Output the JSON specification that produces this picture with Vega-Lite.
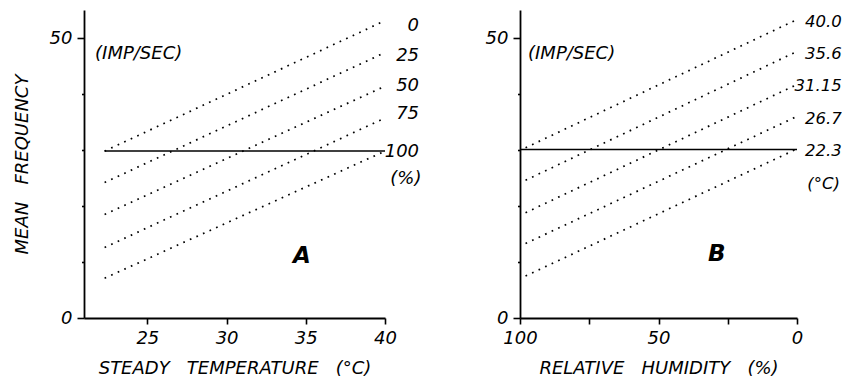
{
  "$schema": "https://vega.github.io/schema/vega-lite/v6.json",
  "background": "white",
  "padding": {"left": 13, "top": 10, "right": 0, "bottom": 0},
  "bounds": "flush",
  "spacing": 135,
  "config": {
    "view": {"stroke": null},
    "font": "DejaVu Sans",
    "axis": {
      "domainColor": "black", "domainWidth": 1.8,
      "tickColor": "black", "tickWidth": 1.6,
      "labelFont": "DejaVu Sans", "labelFontStyle": "italic", "labelFontSize": 18, "labelColor": "black",
      "titleFont": "DejaVu Sans", "titleFontStyle": "italic", "titleFontWeight": "normal", "titleFontSize": 18, "titleColor": "black",
      "grid": false, "labelOverlap": false, "labelFlush": false
    },
    "text": {"font": "DejaVu Sans", "fontStyle": "italic", "color": "black"}
  },
  "datasets": {
    "tempDotted": [
      {"rh": "0", "temp": 22.3, "freq": 29.8}, {"rh": "0", "temp": 40, "freq": 53.1},
      {"rh": "25", "temp": 22.3, "freq": 24.2}, {"rh": "25", "temp": 40, "freq": 47.4},
      {"rh": "50", "temp": 22.3, "freq": 18.5}, {"rh": "50", "temp": 40, "freq": 41.4},
      {"rh": "75", "temp": 22.3, "freq": 12.6}, {"rh": "75", "temp": 40, "freq": 35.7},
      {"rh": "100", "temp": 22.3, "freq": 7.1}, {"rh": "100", "temp": 40, "freq": 29.8}
    ],
    "tempSolid": [{"temp": 22.3, "freq": 29.8}, {"temp": 40, "freq": 29.8}],
    "tempLabels": [
      {"temp": 42.15, "freq": 52.1, "label": "0"},
      {"temp": 42.15, "freq": 46.8, "label": "25"},
      {"temp": 42.15, "freq": 41.4, "label": "50"},
      {"temp": 42.15, "freq": 36.4, "label": "75"},
      {"temp": 42.15, "freq": 29.6, "label": "100"},
      {"temp": 42.3, "freq": 24.9, "label": "(%)"}
    ],
    "tempNotes": [{"temp": 21.7, "freq": 47.1, "label": "(IMP/SEC)"}],
    "tempPanel": [{"temp": 34.76, "freq": 11.1, "label": "A"}],
    "rhDotted": [
      {"temp": "40.0", "rh": 98, "freq": 30.4}, {"temp": "40.0", "rh": 0, "freq": 53.3},
      {"temp": "35.6", "rh": 98, "freq": 24.6}, {"temp": "35.6", "rh": 0, "freq": 47.6},
      {"temp": "31.15", "rh": 98, "freq": 18.8}, {"temp": "31.15", "rh": 0, "freq": 41.7},
      {"temp": "26.7", "rh": 98, "freq": 13.3}, {"temp": "26.7", "rh": 0, "freq": 36.0},
      {"temp": "22.3", "rh": 98, "freq": 7.5}, {"temp": "22.3", "rh": 0, "freq": 30.2}
    ],
    "rhSolid": [{"rh": 100, "freq": 30.1}, {"rh": 0, "freq": 30.1}],
    "rhLabels": [
      {"rh": -16.2, "freq": 52.8, "label": "40.0"},
      {"rh": -16.2, "freq": 47.2, "label": "35.6"},
      {"rh": -16.2, "freq": 41.5, "label": "31.15"},
      {"rh": -16.2, "freq": 35.6, "label": "26.7"},
      {"rh": -16.2, "freq": 29.9, "label": "22.3"},
      {"rh": -15.5, "freq": 24.0, "label": "(°C)"}
    ],
    "rhNotes": [{"rh": 97.1, "freq": 47.1, "label": "(IMP/SEC)"}],
    "rhPanel": [{"rh": 29.0, "freq": 11.4, "label": "B"}]
  },
  "hconcat": [
    {
      "width": 301,
      "height": 308,
      "layer": [
        {
          "data": {"name": "tempDotted"},
          "mark": {"type": "line", "color": "black", "strokeWidth": 1.7, "strokeDash": [1.7, 5.5]},
          "encoding": {
            "x": {"field": "temp", "type": "quantitative", "scale": {"domain": [21, 40], "nice": false, "zero": false},
                  "axis": {"values": [25, 30, 35, 40], "tickSize": 6, "labelPadding": 5,
                           "labelFontStyle": "italic", "labelFontSize": 18, "titleFontStyle": "italic", "titleFontSize": 18,
                           "title": "STEADY\u00a0\u00a0\u00a0TEMPERATURE\u00a0\u00a0\u00a0(°C)", "titlePadding": 12}},
            "y": {"field": "freq", "type": "quantitative", "scale": {"domain": [0, 55], "nice": false},
                  "axis": {"values": [0, 5, 10, 15, 20, 25, 30, 35, 40, 45, 50],
                           "labelExpr": "datum.value % 25 === 0 ? datum.label : ''",
                           "tickSize": {"condition": {"test": "datum.value % 25 === 0", "value": 7}, "value": 2.5},
                           "labelFontStyle": "italic", "labelFontSize": 18, "titleFontStyle": "italic", "titleFontSize": 18,
                           "labelPadding": 5, "title": "MEAN\u00a0\u00a0\u00a0FREQUENCY", "titlePadding": 18}},
            "detail": {"field": "rh", "type": "nominal"}
          }
        },
        {
          "data": {"name": "tempSolid"},
          "mark": {"type": "line", "color": "black", "strokeWidth": 1.5},
          "encoding": {
            "x": {"field": "temp", "type": "quantitative", "scale": {"domain": [21, 40], "nice": false, "zero": false}},
            "y": {"field": "freq", "type": "quantitative", "scale": {"domain": [0, 55], "nice": false}}
          }
        },
        {
          "data": {"name": "tempLabels"},
          "mark": {"type": "text", "align": "right", "baseline": "middle", "fontSize": 18},
          "encoding": {
            "x": {"field": "temp", "type": "quantitative", "scale": {"domain": [21, 40], "nice": false, "zero": false}},
            "y": {"field": "freq", "type": "quantitative", "scale": {"domain": [0, 55], "nice": false}},
            "text": {"field": "label"}
          }
        },
        {
          "data": {"name": "tempNotes"},
          "mark": {"type": "text", "align": "left", "baseline": "middle", "fontSize": 18},
          "encoding": {
            "x": {"field": "temp", "type": "quantitative", "scale": {"domain": [21, 40], "nice": false, "zero": false}},
            "y": {"field": "freq", "type": "quantitative", "scale": {"domain": [0, 55], "nice": false}},
            "text": {"field": "label"}
          }
        },
        {
          "data": {"name": "tempPanel"},
          "mark": {"type": "text", "align": "center", "baseline": "middle", "fontSize": 23, "fontWeight": "bold"},
          "encoding": {
            "x": {"field": "temp", "type": "quantitative", "scale": {"domain": [21, 40], "nice": false, "zero": false}},
            "y": {"field": "freq", "type": "quantitative", "scale": {"domain": [0, 55], "nice": false}},
            "text": {"field": "label"}
          }
        }
      ]
    },
    {
      "width": 277,
      "height": 308,
      "layer": [
        {
          "data": {"name": "rhDotted"},
          "mark": {"type": "line", "color": "black", "strokeWidth": 1.7, "strokeDash": [1.7, 5.5]},
          "encoding": {
            "x": {"field": "rh", "type": "quantitative", "scale": {"domain": [0, 100], "reverse": true, "nice": false},
                  "axis": {"values": [100, 75, 50, 25, 0], "labelExpr": "datum.value % 50 === 0 ? datum.label : ''", "tickSize": 6, "labelPadding": 5,
                           "labelFontStyle": "italic", "labelFontSize": 18, "titleFontStyle": "italic", "titleFontSize": 18,
                           "title": "RELATIVE\u00a0\u00a0\u00a0HUMIDITY\u00a0\u00a0\u00a0(%)", "titlePadding": 12}},
            "y": {"field": "freq", "type": "quantitative", "scale": {"domain": [0, 55], "nice": false},
                  "axis": {"values": [0, 5, 10, 15, 20, 25, 30, 35, 40, 45, 50],
                           "labelExpr": "datum.value % 25 === 0 ? datum.label : ''",
                           "tickSize": {"condition": {"test": "datum.value % 25 === 0", "value": 7}, "value": 2.5},
                           "labelFontStyle": "italic", "labelFontSize": 18,
                           "labelPadding": 5, "title": null}},
            "detail": {"field": "temp", "type": "nominal"}
          }
        },
        {
          "data": {"name": "rhSolid"},
          "mark": {"type": "line", "color": "black", "strokeWidth": 1.5},
          "encoding": {
            "x": {"field": "rh", "type": "quantitative", "scale": {"domain": [0, 100], "reverse": true, "nice": false}},
            "y": {"field": "freq", "type": "quantitative", "scale": {"domain": [0, 55], "nice": false}}
          }
        },
        {
          "data": {"name": "rhLabels"},
          "mark": {"type": "text", "align": "right", "baseline": "middle", "fontSize": 16.5},
          "encoding": {
            "x": {"field": "rh", "type": "quantitative", "scale": {"domain": [0, 100], "reverse": true, "nice": false}},
            "y": {"field": "freq", "type": "quantitative", "scale": {"domain": [0, 55], "nice": false}},
            "text": {"field": "label"}
          }
        },
        {
          "data": {"name": "rhNotes"},
          "mark": {"type": "text", "align": "left", "baseline": "middle", "fontSize": 18},
          "encoding": {
            "x": {"field": "rh", "type": "quantitative", "scale": {"domain": [0, 100], "reverse": true, "nice": false}},
            "y": {"field": "freq", "type": "quantitative", "scale": {"domain": [0, 55], "nice": false}},
            "text": {"field": "label"}
          }
        },
        {
          "data": {"name": "rhPanel"},
          "mark": {"type": "text", "align": "center", "baseline": "middle", "fontSize": 23, "fontWeight": "bold"},
          "encoding": {
            "x": {"field": "rh", "type": "quantitative", "scale": {"domain": [0, 100], "reverse": true, "nice": false}},
            "y": {"field": "freq", "type": "quantitative", "scale": {"domain": [0, 55], "nice": false}},
            "text": {"field": "label"}
          }
        }
      ]
    }
  ]
}
